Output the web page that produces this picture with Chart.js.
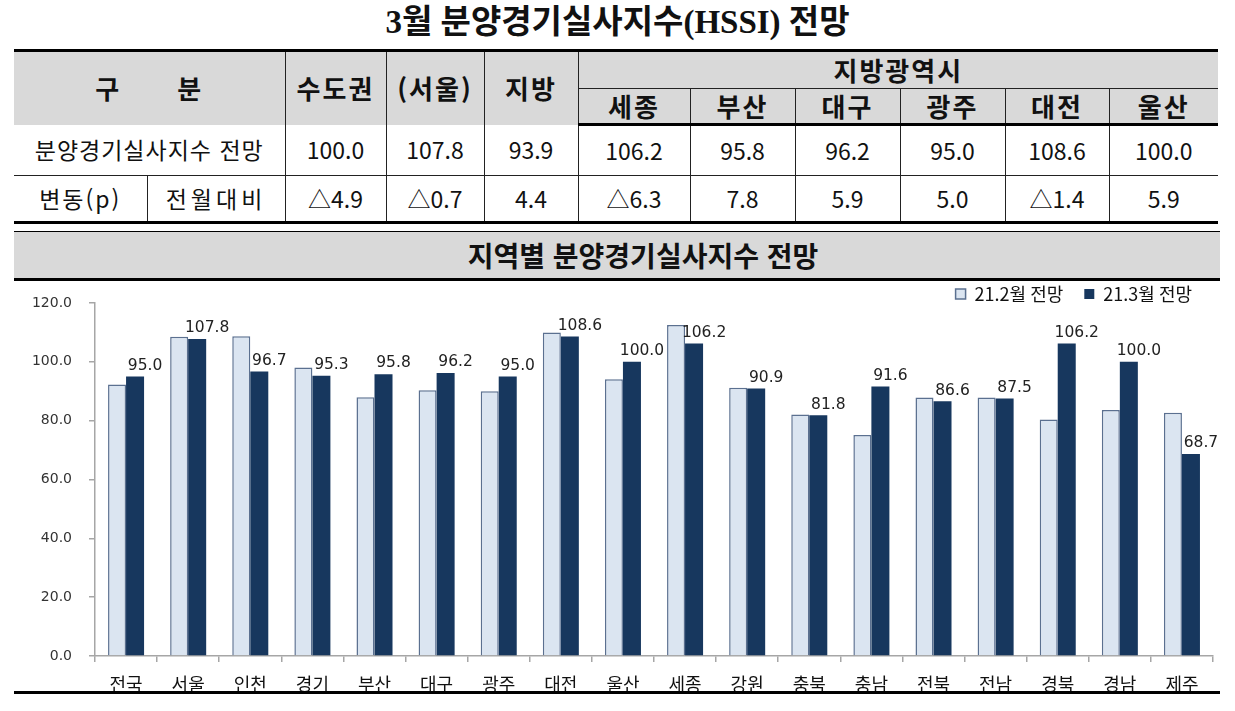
<!DOCTYPE html>
<html lang="ko"><head><meta charset="utf-8">
<script src="https://cdn.jsdelivr.net/npm/chart.js@4.4.1/dist/chart.umd.min.js"></script>
<style>
html,body{margin:0;padding:0;background:#fff;}
body{width:1235px;height:711px;position:relative;overflow:hidden;font-family:"Noto Sans CJK KR","Noto Sans",sans-serif;color:#111;}
#title{position:absolute;left:0;width:1235px;top:2px;text-align:center;font-family:"Liberation Serif","Noto Sans CJK KR",serif;font-weight:bold;font-size:33px;line-height:40px;}
#tbl{position:absolute;left:14px;top:49px;width:1204px;border-collapse:collapse;table-layout:fixed;border-top:3px solid #000;border-bottom:3px solid #000;}
#tbl td{padding:0;text-align:center;vertical-align:middle;border-left:1px solid #222;border-right:1px solid #222;font-size:23px;white-space:nowrap;line-height:1;}
#tbl td.nl{border-left:none}
#tbl td.nr{border-right:none}
#tbl td.k{letter-spacing:1px;}
#tbl td.h{background:#d9d9d9;font-weight:bold;font-size:26px;letter-spacing:2px;}
#tbl tr.rb td{border-bottom:3px solid #000;}
#tbl tr.rc td{border-bottom:1px solid #222;}
#tbl td.sub{border-bottom:1px solid #222;}
#chead{position:absolute;left:14px;top:231px;width:1206px;height:46px;background:#d9d9d9;border-top:1.5px solid #000;border-bottom:3px solid #000;text-align:center;font-weight:bold;font-size:28px;line-height:46px;box-sizing:content-box;}
#chead span{position:relative;left:26px;}
#bline{position:absolute;left:14px;top:691px;width:1206px;height:3px;background:#000;}
#wrap{position:absolute;left:0;top:264px;width:1235px;height:436px;}
</style></head>
<body>
<div id="title"></div>
<table id="tbl"></table>
<div id="chead"><span></span></div>
<div id="wrap"><canvas id="c" width="1235" height="436"></canvas></div>
<div id="bline"></div>
<script>
// ---- data ----
const tableTitle = '3월 분양경기실사지수(HSSI) 전망';
const chartTitle = '지역별 분양경기실사지수 전망';
const tblMainCols = ['수도권', '(서울)', '지방'];
const tblGroupHead = '지방광역시';
const tblMetroCols = ['세종', '부산', '대구', '광주', '대전', '울산'];
const tblRowIndexLabel = '분양경기실사지수 전망';
const tblRowChangeLabel = ['변동(p)', '전월대비'];
const tblIndex = [100.0, 107.8, 93.9, 106.2, 95.8, 96.2, 95.0, 108.6, 100.0];
const tblChange = ['△4.9', '△0.7', '4.4', '△6.3', '7.8', '5.9', '5.0', '△1.4', '5.9'];

const categories = ['전국','서울','인천','경기','부산','대구','광주','대전','울산','세종','강원','충북','충남','전북','전남','경북','경남','제주'];
const seriesNames = ['21.2월 전망', '21.3월 전망'];
const feb = [92.3, 108.5, 108.7, 98.1, 88.0, 90.3, 90.0, 110.0, 94.1, 112.5, 91.2, 82.1, 75.1, 87.9, 87.9, 80.4, 83.6, 82.7];
const mar = [95.0, 107.8, 96.7, 95.3, 95.8, 96.2, 95.0, 108.6, 100.0, 106.2, 90.9, 81.8, 91.6, 86.6, 87.5, 106.2, 100.0, 68.7];
const yMin = 0, yMax = 120, yStep = 20;

// ---- table ----
document.getElementById('title').textContent = tableTitle;
document.querySelector('#chead span').textContent = chartTitle;
const colW = [133, 138, 101, 98, 94, 112, 105, 105, 105, 104, 109];
const tbl = document.getElementById('tbl');
let html = '<colgroup>' + colW.map(w => '<col style="width:' + w + 'px">').join('') + '</colgroup>';
html += '<tr style="height:38px"><td class="h nl" rowspan="2" colspan="2">구\u2003\u2003분</td>' +
  tblMainCols.map(c => '<td class="h" rowspan="2">' + c + '</td>').join('') +
  '<td class="h nr sub" colspan="' + tblMetroCols.length + '">' + tblGroupHead + '</td></tr>';
html += '<tr class="rb" style="height:36px">' + tblMetroCols.map((c, i) =>
  '<td class="h' + (i === tblMetroCols.length - 1 ? ' nr' : '') + '">' + c + '</td>').join('') + '</tr>';
html += '<tr class="rc" style="height:51px"><td class="nl k" colspan="2">' + tblRowIndexLabel + '</td>' +
  tblIndex.map((v, i) => '<td' + (i === tblIndex.length - 1 ? ' class="nr"' : '') + '>' + v.toFixed(1) + '</td>').join('') + '</tr>';
html += '<tr style="height:47px"><td class="nl k" style="letter-spacing:2px">' + tblRowChangeLabel[0] + '</td><td class="k" style="letter-spacing:4px">' + tblRowChangeLabel[1] + '</td>' +
  tblChange.map((v, i) => '<td' + (i === tblChange.length - 1 ? ' class="nr"' : '') + '>' + v + '</td>').join('') + '</tr>';
tbl.innerHTML = html;

// ---- chart ----
const labelPlugin = {
  id: 'valueLabels',
  afterDatasetsDraw(chart) {
    const ctx = chart.ctx;
    const meta = chart.getDatasetMeta(1);
    ctx.save();
    ctx.font = '15.5px "DejaVu Sans"';
    ctx.fillStyle = '#222';
    ctx.textAlign = 'center';
    ctx.textBaseline = 'bottom';
    meta.data.forEach((bar, i) => {
      ctx.fillText(mar[i].toFixed(1), bar.x + 10, bar.y - 3);
    });
    ctx.restore();
  }
};

new Chart(document.getElementById('c'), {
  type: 'bar',
  data: {
    labels: categories,
    datasets: [
      { label: seriesNames[0], data: feb, backgroundColor: '#dbe5f1', borderColor: '#5b7090', borderWidth: 1.5, barPercentage: 1, categoryPercentage: 0.58 },
      { label: seriesNames[1], data: mar, backgroundColor: '#17375e', borderColor: '#17375e', borderWidth: 0, barPercentage: 1, categoryPercentage: 0.58 }
    ]
  },
  options: {
    responsive: false,
    animation: false,
    layout: { padding: { left: 0, right: 22, top: 0, bottom: 0 } },
    plugins: {
      legend: {
        position: 'top', align: 'end', maxHeight: 39,
        labels: { boxWidth: 10, boxHeight: 10, padding: 21, color: '#111', font: { family: 'Noto Sans CJK KR', size: 18 } }
      },
      tooltip: { enabled: false }
    },
    scales: {
      x: {
        grid: { drawOnChartArea: false, color: '#a6a6a6', tickLength: 6, lineWidth: 1.5, offset: true },
        border: { color: '#a6a6a6', width: 1.5 },
        ticks: { padding: 11, color: '#111', font: { family: 'Noto Sans CJK KR', size: 18 } },
        afterFit(s) { s.height = 44; }
      },
      y: {
        min: yMin, max: yMax,
        ticks: { stepSize: yStep, padding: 17, color: '#333', font: { family: 'DejaVu Sans', size: 14 }, callback: v => Number(v).toFixed(1) },
        grid: { drawOnChartArea: false, color: '#a6a6a6', tickLength: 6, lineWidth: 1.5 },
        border: { color: '#a6a6a6', width: 1.5 },
        afterFit(s) { s.width = 95; }
      }
    }
  },
  plugins: [labelPlugin]
});
</script>
</body></html>
